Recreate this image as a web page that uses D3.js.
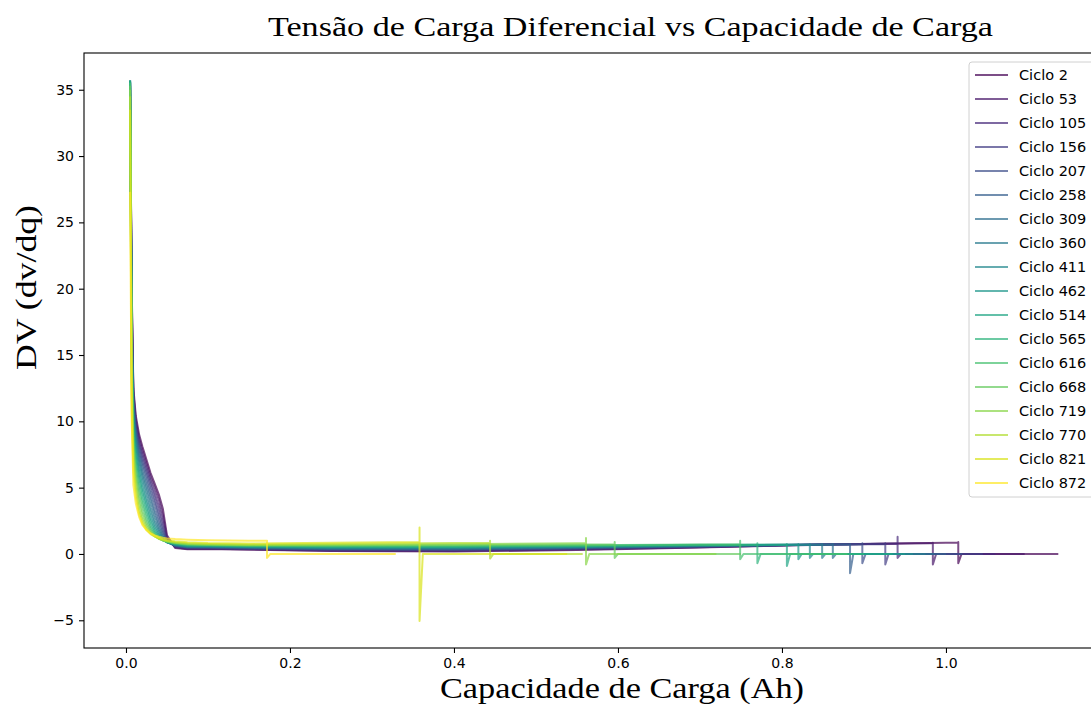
<!DOCTYPE html>
<html>
<head>
<meta charset="utf-8">
<script src="https://cdn.jsdelivr.net/npm/d3@7"></script>
<style>
  html, body { margin: 0; padding: 0; background: #fff; }
  svg { display: block; }
</style>
</head>
<body>
<svg id="chart" width="1091" height="706"></svg>
<script>
// Cycle labels (legend order, also draw order)
const cycles = [2, 53, 105, 156, 207, 258, 309, 360, 411, 462, 514, 565, 616, 668, 719, 770, 821, 872];

// Capacity grid (Ah) for the steep initial part of each charge
const headQ = [0.005, 0.007, 0.009, 0.012, 0.016, 0.020, 0.025, 0.030, 0.035, 0.040, 0.045, 0.050, 0.060, 0.075, 0.100, 0.150];
// dV/dQ on headQ, one row per cycle
const headDV = [
  [35.0, 20.0, 12.5, 10.4, 9.0, 8.1, 7.1, 6.1, 5.3, 4.5, 3.4, 1.4, 0.45, 0.35, 0.38, 0.32],
  [35.3, 19.5, 12.2, 10.1, 8.7, 7.8, 6.8, 5.8, 5.0, 4.1, 2.9, 1.2, 0.50, 0.38, 0.40, 0.35],
  [35.4, 19.0, 12.0, 9.8, 8.4, 7.5, 6.5, 5.5, 4.6, 3.6, 2.4, 1.1, 0.55, 0.42, 0.42, 0.38],
  [35.5, 18.5, 11.8, 9.6, 8.2, 7.2, 6.2, 5.2, 4.2, 3.1, 2.0, 1.0, 0.58, 0.45, 0.45, 0.40],
  [35.5, 18.0, 11.6, 9.4, 7.9, 6.9, 5.9, 4.8, 3.8, 2.7, 1.7, 0.95, 0.60, 0.48, 0.47, 0.42],
  [35.6, 17.5, 11.3, 9.1, 7.6, 6.6, 5.5, 4.4, 3.3, 2.3, 1.5, 0.90, 0.62, 0.50, 0.50, 0.45],
  [35.6, 17.0, 11.0, 8.8, 7.3, 6.2, 5.1, 4.0, 2.9, 2.0, 1.3, 0.90, 0.65, 0.52, 0.52, 0.48],
  [35.7, 16.5, 10.7, 8.5, 7.0, 5.9, 4.7, 3.5, 2.5, 1.8, 1.2, 0.88, 0.67, 0.55, 0.55, 0.50],
  [35.7, 16.0, 10.4, 8.2, 6.6, 5.5, 4.2, 3.1, 2.2, 1.6, 1.15, 0.88, 0.70, 0.58, 0.57, 0.52],
  [35.7, 15.5, 10.0, 7.8, 6.2, 5.0, 3.8, 2.7, 1.95, 1.45, 1.1, 0.88, 0.72, 0.60, 0.60, 0.55],
  [35.7, 15.0, 9.6, 7.4, 5.8, 4.6, 3.4, 2.4, 1.75, 1.35, 1.05, 0.90, 0.75, 0.63, 0.62, 0.57],
  [35.6, 14.5, 9.2, 7.0, 5.3, 4.1, 3.0, 2.1, 1.6, 1.25, 1.05, 0.90, 0.77, 0.66, 0.64, 0.60],
  [35.5, 14.0, 8.8, 6.5, 4.8, 3.7, 2.6, 1.9, 1.5, 1.2, 1.02, 0.92, 0.80, 0.70, 0.67, 0.62],
  [35.3, 13.5, 8.3, 6.0, 4.3, 3.2, 2.3, 1.75, 1.4, 1.18, 1.02, 0.93, 0.82, 0.73, 0.70, 0.65],
  [35.0, 13.0, 7.8, 5.5, 3.8, 2.8, 2.1, 1.65, 1.35, 1.15, 1.03, 0.95, 0.85, 0.76, 0.72, 0.68],
  [34.5, 12.0, 7.2, 4.9, 3.3, 2.5, 1.9, 1.55, 1.32, 1.15, 1.05, 0.98, 0.88, 0.80, 0.76, 0.72],
  [33.5, 11.0, 6.3, 4.3, 3.0, 2.3, 1.8, 1.5, 1.32, 1.2, 1.1, 1.03, 0.95, 0.88, 0.82, 0.78],
  [27.3, 10.0, 5.2, 3.8, 2.8, 2.2, 1.8, 1.55, 1.4, 1.3, 1.22, 1.17, 1.12, 1.08, 1.04, 1.00]
];

// Capacity grid (Ah) for the slow constant-current plateau
const bodyQ = [0.25, 0.40, 0.55, 0.70, 0.85, 1.00];
const bodyDV = [
  [0.22, 0.18, 0.30, 0.48, 0.70, 0.84],
  [0.25, 0.22, 0.34, 0.50, 0.72],
  [0.28, 0.26, 0.37, 0.52, 0.72],
  [0.31, 0.30, 0.40, 0.54, 0.73],
  [0.34, 0.33, 0.43, 0.56, 0.72],
  [0.37, 0.36, 0.45, 0.58, 0.72],
  [0.40, 0.40, 0.48, 0.60],
  [0.43, 0.43, 0.50, 0.62],
  [0.46, 0.46, 0.53, 0.64],
  [0.49, 0.50, 0.56, 0.66],
  [0.52, 0.53, 0.59, 0.68],
  [0.56, 0.57, 0.62, 0.70],
  [0.60, 0.62, 0.66, 0.72],
  [0.65, 0.68, 0.72],
  [0.70, 0.74, 0.80],
  [0.76, 0.82],
  [0.85],
  []
];

// End of constant-current phase: capacity, dV/dQ just before it, spike top and bottom
const ccEndQ  = [1.015, 0.984, 0.941, 0.926, 0.898, 0.883, 0.862, 0.849, 0.834, 0.820, 0.806, 0.770, 0.749, 0.596, 0.561, 0.444, 0.358, 0.172];
const ccLevel = [0.85, 0.82, 0.78, 0.76, 0.74, 0.73, 0.72, 0.72, 0.71, 0.70, 0.70, 0.71, 0.73, 0.73, 0.80, 0.84, 0.90, 1.00];
const ccPeak  = [0.90, 0.85, 1.30, 0.80, 0.80, 0.75, 0.75, 0.75, 0.75, 0.75, 0.75, 0.80, 1.00, 0.90, 1.20, 1.00, 2.00, 1.00];
const ccDip   = [-0.7, -0.8, -0.3, -0.8, -0.7, -1.45, -0.3, -0.3, -0.3, -0.4, -0.9, -0.7, -0.4, -0.3, -0.8, -0.35, -5.05, -0.3];
// Settling point after the spike and end of the constant-voltage phase (dV/dQ = 0)
const cvStartQ = [1.019, 0.988, 0.945, 0.930, 0.902, 0.887, 0.866, 0.853, 0.838, 0.824, 0.810, 0.774, 0.753, 0.600, 0.565, 0.448, 0.362, 0.176];
const cvEndQ   = [1.137, 1.096, 1.060, 1.045, 1.020, 1.000, 0.985, 0.975, 0.960, 0.950, 0.935, 0.900, 0.880, 0.750, 0.720, 0.557, 0.538, 0.329];

const xTicks = [0.0, 0.2, 0.4, 0.6, 0.8, 1.0];
const yTicks = [-5, 0, 5, 10, 15, 20, 25, 30, 35];

const titleText = "Tensão de Carga Diferencial vs Capacidade de Carga";
const xLabel = "Capacidade de Carga (Ah)";
const yLabel = "DV (dv/dq)";

// ---- layout ----
const svg = d3.select("#chart");
const plot = { left: 84, top: 53, right: 1103, bottom: 648 };

const x = d3.scaleLinear().domain([-0.0512, 1.1915]).range([plot.left, plot.right]);
const y = d3.scaleLinear().domain([-7.09, 37.77]).range([plot.bottom, plot.top]);
const color = i => d3.interpolateViridis(i / (cycles.length - 1));

svg.append("defs").append("clipPath").attr("id", "plotClip")
  .append("rect")
  .attr("x", plot.left).attr("y", plot.top)
  .attr("width", plot.right - plot.left).attr("height", plot.bottom - plot.top);

// ---- series ----
const series = cycles.map((c, i) => {
  const pts = [];
  headQ.forEach((q, k) => { if (q < ccEndQ[i]) pts.push([q, headDV[i][k]]); });
  bodyDV[i].forEach((v, k) => { if (bodyQ[k] < ccEndQ[i]) pts.push([bodyQ[k], v]); });
  pts.push([ccEndQ[i], ccLevel[i]]);
  pts.push([ccEndQ[i], ccPeak[i]]);
  pts.push([ccEndQ[i], ccDip[i]]);
  pts.push([cvStartQ[i], 0]);
  pts.push([cvEndQ[i], 0]);
  return { cycle: c, color: color(i), pts };
});

const line = d3.line().x(d => x(d[0])).y(d => y(d[1]));

svg.append("g").attr("clip-path", "url(#plotClip)")
  .selectAll("path").data(series).join("path")
  .attr("d", d => line(d.pts))
  .attr("fill", "none")
  .attr("stroke", d => d.color)
  .attr("stroke-opacity", 0.7)
  .attr("stroke-width", 2)
  .attr("stroke-linejoin", "round");

// ---- axes ----
const fontTick = "'DejaVu Sans', sans-serif";
const xAxis = svg.append("g")
  .attr("transform", `translate(0,${plot.bottom})`)
  .call(d3.axisBottom(x).tickValues(xTicks).tickFormat(d3.format(".1f")).tickSize(5).tickSizeOuter(0).tickPadding(5));
const yAxis = svg.append("g")
  .attr("transform", `translate(${plot.left},0)`)
  .call(d3.axisLeft(y).tickValues(yTicks).tickFormat(d3.format("d")).tickSize(5).tickSizeOuter(0).tickPadding(5));
[xAxis, yAxis].forEach(g => {
  g.select(".domain").remove();
  g.selectAll(".tick line").attr("stroke", "#000").attr("stroke-width", 1.1);
  g.selectAll(".tick text").attr("fill", "#000").style("font-family", fontTick).style("font-size", "14px");
});

// spines
svg.append("rect")
  .attr("x", plot.left).attr("y", plot.top)
  .attr("width", plot.right - plot.left).attr("height", plot.bottom - plot.top)
  .attr("fill", "none").attr("stroke", "#000").attr("stroke-width", 1.1);

// ---- legend ----
const legend = svg.append("g");
legend.append("rect")
  .attr("x", 969).attr("y", 62).attr("width", 128).attr("height", 435).attr("rx", 3)
  .attr("fill", "#fff").attr("fill-opacity", 0.8)
  .attr("stroke", "#d0d0d0").attr("stroke-width", 1);
const items = legend.selectAll("g.item").data(series).join("g")
  .attr("class", "item")
  .attr("transform", (d, i) => `translate(0,${75 + i * 24})`);
items.append("line")
  .attr("x1", 975).attr("x2", 1008)
  .attr("stroke", d => d.color).attr("stroke-opacity", 0.7).attr("stroke-width", 2);
items.append("text")
  .attr("x", 1019).attr("dy", "0.36em")
  .style("font-family", fontTick).style("font-size", "14.5px")
  .text(d => `Ciclo ${d.cycle}`);

// ---- titles ----
const serif = "'Liberation Serif', 'DejaVu Serif', serif";
svg.append("text")
  .attr("x", 630.5).attr("y", 36).attr("text-anchor", "middle")
  .attr("textLength", 725).attr("lengthAdjust", "spacingAndGlyphs")
  .style("font-family", serif).style("font-size", "28px")
  .text(titleText);
svg.append("text")
  .attr("x", 622).attr("y", 698).attr("text-anchor", "middle")
  .attr("textLength", 364).attr("lengthAdjust", "spacingAndGlyphs")
  .style("font-family", serif).style("font-size", "29px")
  .text(xLabel);
svg.append("text")
  .attr("transform", "translate(36,287.5) rotate(-90)")
  .attr("text-anchor", "middle")
  .attr("textLength", 165).attr("lengthAdjust", "spacingAndGlyphs")
  .style("font-family", serif).style("font-size", "29px")
  .text(yLabel);
</script>
</body>
</html>
